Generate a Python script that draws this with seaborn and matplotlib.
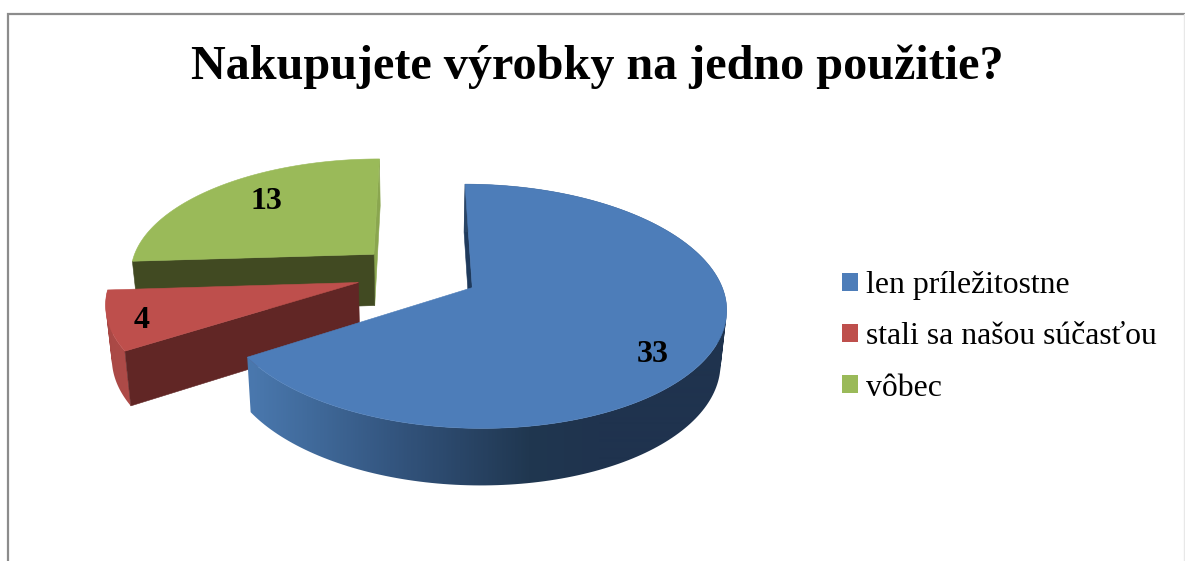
import numpy as np
import matplotlib
matplotlib.use("Agg")
import matplotlib.pyplot as plt
from matplotlib.patches import Patch, Polygon, PathPatch
from matplotlib.path import Path
import seaborn as sns

title = "Nakupujete výrobky na jedno použitie?"
categories = ["len príležitostne", "stali sa našou súčasťou", "vôbec"]
values = [33, 4, 13]
top_colors = ["#4D7DB9", "#BE4F4C", "#9ABA59"]

sns.set_theme(style="white")
plt.rcParams["font.family"] = ["Liberation Serif", "DejaVu Serif"]

W, H = 1185, 561
fig = plt.figure(figsize=(W / 100, H / 100), dpi=100, facecolor="white")
ax = fig.add_axes([0, 0, 1, 1])

# The library computes the slice angles and explosion offsets
wedges, _ = ax.pie(values, explode=[0.25] * 3, startangle=90, counterclock=False,
                   colors=top_colors, radius=1)
geom = [(w.center, w.theta1, w.theta2, w.r) for w in wedges]
for w in wedges:
    w.remove()

CX, CY, RX, RY, K = 417.5, 273.5, 245.5, 115, 0.15


def top_face(u, v):
    w = 1 + K * v
    return CX + RX * u / w, CY - RY * v / w


def bottom_face(u, v):
    x, y = top_face(u, v)
    return CX + (x - CX) * 0.98, y + 52 - 4.5 * v


def arc(center, t1, t2, r, n=200):
    th = np.radians(np.linspace(t1, t2, n))
    return center[0] + r * np.cos(th), center[1] + r * np.sin(th)


def radial_wall(center, edge, color, z):
    a = top_face(*center); b = top_face(*edge); c = bottom_face(*edge); d = bottom_face(*center)
    ax.add_patch(Polygon([a, b, c, d], closed=True, fc=color, ec=color, lw=0.4, zorder=z))


def rim(u, v, colors, x0, x1, z):
    """Outer wall of a slice: union of small quads, filled with a clamped horizontal gradient."""
    tx, ty = top_face(u, v)
    bx, by = bottom_face(u, v)
    verts, codes = [], []
    for j in range(len(tx) - 1):
        q = np.array([[tx[j], ty[j]], [tx[j + 1], ty[j + 1]],
                      [bx[j + 1], by[j + 1]], [bx[j], by[j]]])
        area = np.sum(q[:, 0] * np.roll(q[:, 1], -1) - np.roll(q[:, 0], -1) * q[:, 1])
        if area < 0:
            q = q[::-1]
        verts += list(q) + [q[0]]
        codes += [Path.MOVETO, Path.LINETO, Path.LINETO, Path.LINETO, Path.CLOSEPOLY]
    patch = PathPatch(Path(np.array(verts), codes), fc="none", ec="none", transform=ax.transData)
    ax.add_patch(patch)
    cmap = sns.blend_palette(colors, as_cmap=True)
    grad = np.clip((np.arange(W) + 0.5 - x0) / (x1 - x0), 0, 1)[None, :]
    im = ax.imshow(grad, cmap=cmap, vmin=0, vmax=1, aspect="auto",
                   extent=(0, W, H, 0), zorder=z, interpolation="bilinear")
    im.set_clip_path(patch)


order = [2, 1, 0]
for idx in order:
    center, t1, t2, r = geom[idx]
    z = 10 * (order.index(idx) + 1)
    u, v = arc(center, t1, t2, r)
    if idx == 0:
        radial_wall(center, (u[-1], v[-1]), "#1F3A5C", z)
        rim(u, v, ["#4A78AE", "#3F6898", "#345680", "#2A4668", "#203750", "#1F334E"], 250, 600, z + 2)
    elif idx == 1:
        radial_wall(center, (u[-1], v[-1]), "#612625", z + 1)
        rim(u, v, ["#A84845", "#B04C49"], 105, 135, z)
    else:
        radial_wall(center, (u[0], v[0]), "#8AA64F", z)
        radial_wall(center, (u[-1], v[-1]), "#414A22", z + 1)
    px, py = top_face(np.r_[center[0], u], np.r_[center[1], v])
    ax.add_patch(Polygon(np.c_[px, py], closed=True, fc=top_colors[idx], ec=top_colors[idx],
                         lw=0.4, zorder=z + 3))

ax.set_aspect("auto")
ax.set_xlim(0, W)
ax.set_ylim(H, 0)
ax.axis("off")

# Chart border, open at the bottom
ax.plot([7.5, 7.5, 1185], [561, 13.5, 13.5], color="#8C8C8C", lw=1.6, zorder=1,
        solid_joinstyle="miter", clip_on=False)
ax.plot([1184, 1184], [13.5, 561], color="#E8E8E8", lw=1, zorder=1)

ax.text(597.5, 79, title, ha="center", va="baseline", fontsize=34.7, fontweight="bold",
        color="black", zorder=100)

for val, (lx, ly) in zip(values, [(653, 354), (142, 320), (266, 201)]):
    ax.text(lx, ly, str(val), ha="center", va="center", fontsize=23, fontweight="bold",
            color="black", zorder=100)

handles = [Patch(facecolor=c, edgecolor="none", label=l) for c, l in zip(top_colors, categories)]
leg = ax.legend(handles=handles, loc="upper left", bbox_to_anchor=(842, 271),
                bbox_transform=ax.transData, frameon=False, fontsize=22.9,
                handlelength=0.5, handleheight=0.5, handletextpad=0.25,
                labelspacing=0.7, borderpad=0, borderaxespad=0, labelcolor="black")
leg.set_zorder(100)

fig.savefig("out.png", dpi=100, facecolor="white")
